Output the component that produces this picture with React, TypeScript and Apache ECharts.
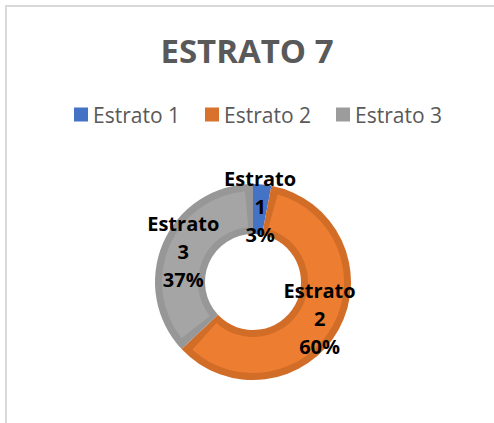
import React, { useEffect, useRef } from "react";
import * as echarts from "echarts";

const titleText = "ESTRATO 7";
const categories = ["Estrato 1", "Estrato 2", "Estrato 3"];
const values = [3, 60, 37];
const fillColors = ["#4472C4", "#ED7D31", "#A5A5A5"];
const edgeColors = ["#4472C4", "#D26D28", "#979797"];
const legendColors = ["#4472C4", "#D8722D", "#9C9C9C"];

export default function App() {
  const ref = useRef<HTMLDivElement>(null);
  useEffect(() => {
    if (!ref.current) return;
    const chart = echarts.init(ref.current, null, { renderer: "svg" });
    const cx = 253;
    const cy = 282;
    const rIn = 48;
    const rOut = 98;
    const bw = 7;
    chart.setOption({
      animation: false,
      backgroundColor: "#ffffff",
      graphic: [
        {
          type: "rect",
          shape: { x: 6, y: 6, width: 600, height: 600 },
          style: { fill: "none", stroke: "#d9d9d9", lineWidth: 2 },
          silent: true,
        },
      ],
      title: {
        text: titleText,
        left: "center",
        top: 29,
        textStyle: {
          fontFamily: "Open Sans",
          fontWeight: "bold",
          fontSize: 33,
          color: "#595959",
        },
      },
      legend: {
        data: categories.map((name, i) => ({
          name,
          itemStyle: { color: legendColors[i], borderWidth: 0 },
        })),
        top: 99,
        left: 69,
        itemWidth: 14,
        itemHeight: 14,
        itemGap: 25,
        icon: "rect",
        textStyle: {
          fontFamily: "Open Sans",
          fontSize: 21,
          color: "#595959",
        },
      },
      series: [
        {
          type: "pie",
          center: [cx, cy],
          radius: [rIn, rOut],
          startAngle: 90,
          clockwise: true,
          silent: true,
          data: categories.map((name, i) => ({
            name,
            value: values[i],
            itemStyle: { color: edgeColors[i], borderWidth: 0 },
          })),
          label: { show: false },
          labelLine: { show: false },
          emphasis: { disabled: true },
        },
        {
          type: "pie",
          center: [cx, cy],
          radius: [rIn + bw, rOut - bw],
          startAngle: 90,
          clockwise: true,
          padAngle: 10,
          avoidLabelOverlap: false,
          data: categories.map((name, i) => ({
            name,
            value: values[i],
            itemStyle: { color: fillColors[i], borderWidth: 0 },
          })),
          label: {
            show: true,
            position: "inside",
            formatter: (p: any) => p.name.replace(" ", "\n") + "\n" + Math.round(p.percent) + "%",
            fontFamily: "Open Sans",
            fontWeight: "bold",
            fontSize: 20,
            lineHeight: 28,
            color: "#000000",
            textBorderWidth: 0,
          },
          labelLine: { show: false },
          emphasis: { disabled: true },
        },
      ],
    });
    return () => chart.dispose();
  }, []);
  return (
    <div
      ref={ref}
      style={{ position: "absolute", left: 0, top: 0, width: 494, height: 423 }}
    />
  );
}
